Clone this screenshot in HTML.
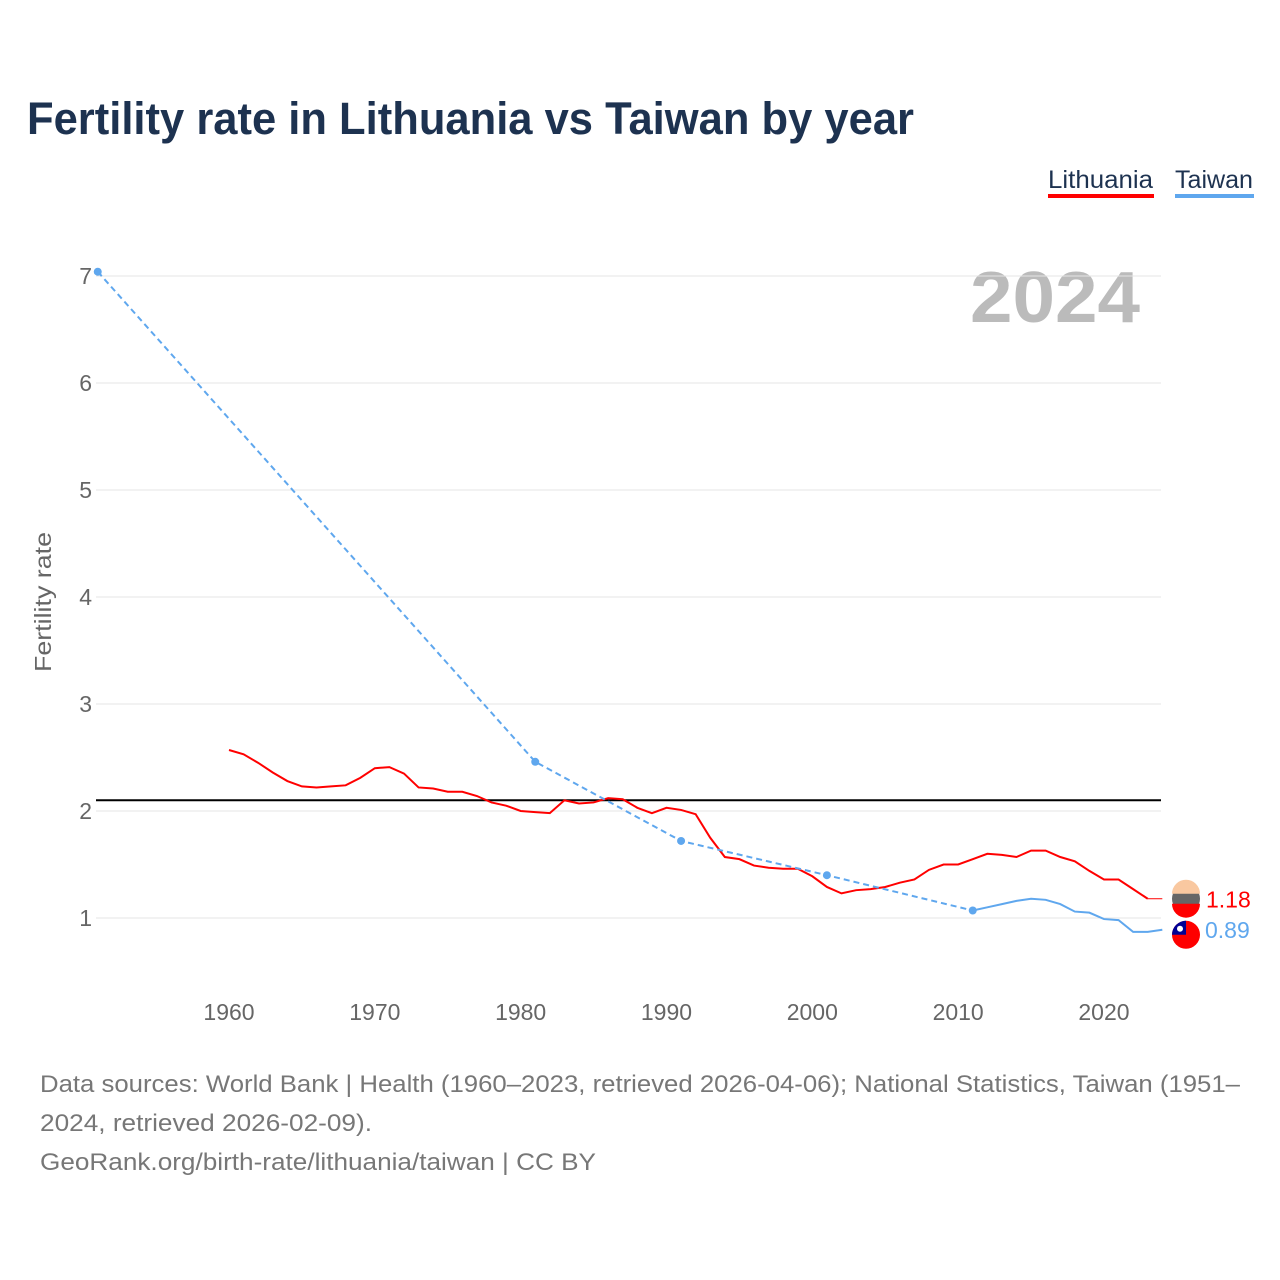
<!DOCTYPE html>
<html><head><meta charset="utf-8"><style>
body{margin:0;background:#fff;font-family:"Liberation Sans",sans-serif}
#wrap{position:relative;width:1280px;height:1280px;overflow:hidden}
</style></head><body>
<div id="wrap">
<svg id="chart" width="1280" height="1280">
<text x="27" y="134" font-size="45" font-weight="bold" fill="#1d3250" textLength="887" lengthAdjust="spacingAndGlyphs">Fertility rate in Lithuania vs Taiwan by year</text>
<g><text x="1048" y="188" font-size="25" fill="#1d3250" textLength="105" lengthAdjust="spacingAndGlyphs">Lithuania</text><rect x="1048" y="194" width="106" height="4" fill="#ff0000"/></g>
<g><text x="1175" y="188" font-size="25" fill="#1d3250" textLength="78" lengthAdjust="spacingAndGlyphs">Taiwan</text><rect x="1175" y="194" width="79" height="4" fill="#5fa7ee"/></g>
<text x="970" y="322" font-size="72" font-weight="bold" fill="#bbb" textLength="170" lengthAdjust="spacingAndGlyphs">2024</text>
<text transform="translate(51,602) rotate(-90)" font-size="23" fill="#666" text-anchor="middle" textLength="140" lengthAdjust="spacingAndGlyphs">Fertility rate</text>
<g id="grid"></g><g id="yt"></g><g id="xt"></g><g id="series"></g>
<g font-size="24" fill="#777">
<text x="40" y="1092" textLength="1200" lengthAdjust="spacingAndGlyphs">Data sources: World Bank | Health (1960–2023, retrieved 2026-04-06); National Statistics, Taiwan (1951–</text>
<text x="40" y="1131" textLength="332" lengthAdjust="spacingAndGlyphs">2024, retrieved 2026-02-09).</text>
<text x="40" y="1170" textLength="556" lengthAdjust="spacingAndGlyphs">GeoRank.org/birth-rate/lithuania/taiwan | CC BY</text>
</g>
</svg>
</div>
<script>
const yTicks=[1,2,3,4,5,6,7];
const xTicks=[1960,1970,1980,1990,2000,2010,2020];
const ltYears=[1960,1961,1962,1963,1964,1965,1966,1967,1968,1969,1970,1971,1972,1973,1974,1975,1976,1977,1978,1979,1980,1981,1982,1983,1984,1985,1986,1987,1988,1989,1990,1991,1992,1993,1994,1995,1996,1997,1998,1999,2000,2001,2002,2003,2004,2005,2006,2007,2008,2009,2010,2011,2012,2013,2014,2015,2016,2017,2018,2019,2020,2021,2022,2023];
const ltVals=[2.57,2.53,2.45,2.36,2.28,2.23,2.22,2.23,2.24,2.31,2.40,2.41,2.35,2.22,2.21,2.18,2.18,2.14,2.08,2.05,2.00,1.99,1.98,2.10,2.07,2.08,2.12,2.11,2.03,1.98,2.03,2.01,1.97,1.75,1.57,1.55,1.49,1.47,1.46,1.46,1.39,1.29,1.23,1.26,1.27,1.29,1.33,1.36,1.45,1.50,1.50,1.55,1.60,1.59,1.57,1.63,1.63,1.57,1.53,1.44,1.36,1.36,1.27,1.18];
const twSparseYears=[1951,1981,1991,2001,2011];
const twSparseVals=[7.04,2.46,1.72,1.40,1.07];
const twYears=[2011,2012,2013,2014,2015,2016,2017,2018,2019,2020,2021,2022,2023,2024];
const twVals=[1.07,1.10,1.13,1.16,1.18,1.17,1.13,1.06,1.05,0.99,0.98,0.87,0.87,0.89];
const replacement=2.1;
const X=y=>229+(y-1960)*14.583, Y=v=>918-(v-1)*107;
const NS="http://www.w3.org/2000/svg";
function mk(p,t,a){const e=document.createElementNS(NS,t);for(const k in a)e.setAttribute(k,a[k]);p.appendChild(e);return e;}
const g=document.getElementById('grid'),yt=document.getElementById('yt'),xt=document.getElementById('xt'),s=document.getElementById('series');
yTicks.forEach(v=>{const l=mk(g,'line',{x1:96,x2:1161,y1:Y(v),y2:Y(v),stroke:'#e6e6e6'});


const t=mk(yt,'text',{x:92,y:Y(v)+8,'font-size':23,fill:'#666','text-anchor':'end'});t.textContent=v;

});
xTicks.forEach(v=>{const t=mk(xt,'text',{x:X(v),y:1020,'font-size':23,fill:'#666','text-anchor':'middle'});t.textContent=v;

});
const rl=mk(s,'line',{x1:96,x2:1161,y1:Y(replacement),y2:Y(replacement),stroke:'#000','stroke-width':2});


const pts=(ys,vs)=>ys.map((y,i)=>X(y)+','+Y(vs[i])).join(' ');
const lt=mk(s,'polyline',{points:pts(ltYears,ltVals),fill:'none',stroke:'#ff0000','stroke-width':2});


const lastLt=ltVals[ltVals.length-1];
const ltx=mk(s,'line',{x1:X(2023),x2:X(2024),y1:Y(lastLt),y2:Y(lastLt),stroke:'#ff0000','stroke-width':1});


const td=mk(s,'polyline',{points:pts(twSparseYears,twSparseVals),fill:'none',stroke:'#5fa7ee','stroke-width':2,'stroke-dasharray':'6,4'});


twSparseYears.forEach((y,i)=>{const c=mk(s,'circle',{cx:X(y),cy:Y(twSparseVals[i]),r:4,fill:'#5fa7ee'});

});
const tw=mk(s,'polyline',{points:pts(twYears,twVals),fill:'none',stroke:'#5fa7ee','stroke-width':2});


const lastTw=twVals[twVals.length-1];
const f1=mk(s,'g',{});


const fy=Y(lastLt);
mk(f1,'circle',{cx:1186,cy:fy,r:14,fill:'#666'});
mk(f1,'path',{d:`M1172 ${fy-5} A14 14 0 0 1 1200 ${fy-5} Z`,fill:'#f9c8a0'});
mk(f1,'path',{d:`M1172 ${fy+5} A14 14 0 0 0 1200 ${fy+5} Z`,fill:'#ff0000'});
const f2=mk(s,'g',{});


const ty=Y(lastTw)+5;
mk(f2,'circle',{cx:1186,cy:ty,r:14,fill:'#fe0000'});
mk(f2,'path',{d:`M1172 ${ty} A14 14 0 0 1 1186 ${ty-14} L1186 ${ty} Z`,fill:'#000095'});
mk(f2,'circle',{cx:1180,cy:ty-6,r:3,fill:'#fff'});
const l1=mk(s,'text',{x:1206,y:Y(lastLt)+9,'font-size':23,fill:'#ff0000'});l1.textContent=lastLt.toFixed(2);


const l2=mk(s,'text',{x:1205,y:Y(lastTw)+8,'font-size':23,fill:'#5fa7ee'});l2.textContent=lastTw.toFixed(2);


</script>
</body></html>
